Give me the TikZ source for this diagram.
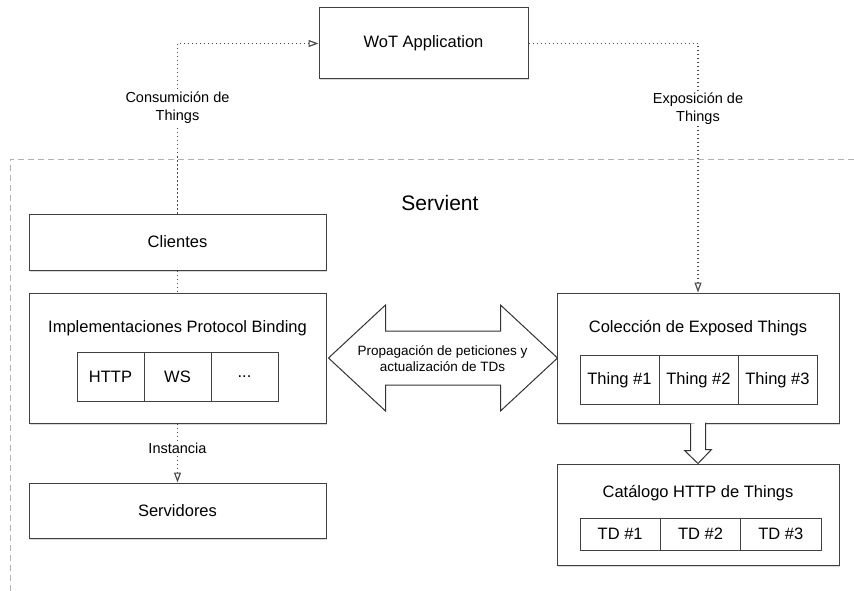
\documentclass[tikz,border=0pt]{standalone}
\usepackage{fontspec}
\setmainfont{Liberation Sans}
\usetikzlibrary{arrows.meta,shadows,positioning}

\begin{document}
\begin{tikzpicture}[x=1pt,y=-1pt,line join=miter,
  box/.style={draw=black!75,line width=1pt,fill=white,inner sep=0pt,
    drop shadow={shadow xshift=1pt,shadow yshift=-1.5pt,opacity=0.3}},
  cell/.style={draw=black!75,line width=0.9pt,inner sep=0pt,outer sep=0pt,
    minimum height=49pt,font=\fontsize{16.5}{19}\selectfont},
  title/.style={font=\fontsize{16.5}{19}\selectfont},
  lbl/.style={fill=white,inner sep=1pt,align=center,font=\fontsize{14.5}{18}\selectfont},
  dotline/.style={draw=black!70,line width=1.2pt,dash pattern=on 1.2pt off 2.8pt},
  blockarr/.style={draw=black!80,line width=1pt,fill=white},
  >={Triangle[open,length=10pt,width=7pt]}]
  \useasboundingbox (0,0) rectangle (854,591);

  % Servient frame
  \draw[black!30,line width=0.9pt,dash pattern=on 6pt off 4pt] (854,159) -| (10,591);
  \node[font=\fontsize{21}{25}\selectfont] (servient) at (440,203) {Servient};

  % boxes
  \node[box,minimum width=209pt,minimum height=71pt,title] (wot) at (423.5,43.5) {WoT Application};
  \node[box,minimum width=297pt,minimum height=56pt,title] (cli) at (177.5,242) {Clientes};
  \node[box,minimum width=297pt,minimum height=130pt] (impl) at (177.5,358) {};
  \node[box,minimum width=297pt,minimum height=55pt,title] (serv) at (177.5,510.5) {Servidores};
  \node[box,minimum width=282pt,minimum height=130pt] (coll) at (698,358) {};
  \node[box,minimum width=282pt,minimum height=101pt] (cat) at (698,514.5) {};

  \node[title] (impltitle) at (177.5,328) {Implementaciones Protocol Binding};
  \node[title] (colltitle) at (698,328) {Colección de Exposed Things};
  \node[title] (cattitle) at (698,493) {Catálogo HTTP de Things};

  % protocol cells
  \node[cell,minimum width=67pt] (http) at (110.5,376.5) {HTTP};
  \node[cell,minimum width=67pt,right=0pt of http] (ws) {WS};
  \node[cell,minimum width=67pt,right=0pt of ws] (more) {...};

  % thing cells
  \node[cell,minimum width=79pt] (th1) at (619.5,380) {Thing \#1};
  \node[cell,minimum width=79pt,right=0pt of th1] (th2) {Thing \#2};
  \node[cell,minimum width=79pt,right=0pt of th2] (th3) {Thing \#3};

  % TD cells
  \node[cell,minimum width=80.3pt,minimum height=32pt] (td1) at (620.2,534) {TD \#1};
  \node[cell,minimum width=80.3pt,minimum height=32pt,right=0pt of td1] (td2) {TD \#2};
  \node[cell,minimum width=80.3pt,minimum height=32pt,right=0pt of td2] (td3) {TD \#3};

  % dotted connectors
  \draw[dotline,->] (cli.north) |- (wot.west)
    node[lbl,pos=0.31] (cons) {Consumición de\\Things};
  \draw[dotline,->] (wot.east) -| (coll.north)
    node[lbl,pos=0.63] (expo) {Exposición de\\Things};
  \draw[dotline] (cli.south) -- (impl.north);
  \draw[dotline,->] (impl.south) -- (serv.north)
    node[lbl,pos=0.42] (inst) {Instancia};

  % block arrows
  \draw[blockarr] (impl.east) ++(2,0) coordinate (la) -- ++(57,-53) -- ++(0,26)
    -- ++(115,0) -- ++(0,-26) -- ++(57,53) -- ++(-57,53) -- ++(0,-26)
    -- ++(-115,0) -- ++(0,26) -- cycle;
  \node[align=center,font=\fontsize{13.5}{15.5}\selectfont] (prop) at (442.5,358.5)
    {Propagación de peticiones y\\actualización de TDs};
  \draw[blockarr] (coll.south) ++(-7.5,0) -- ++(0,27) -- ++(-6,0) -- (cat.north)
    -- ++(13.5,-14) -- ++(-6,0) -- ++(0,-27);
\end{tikzpicture}
\end{document}
